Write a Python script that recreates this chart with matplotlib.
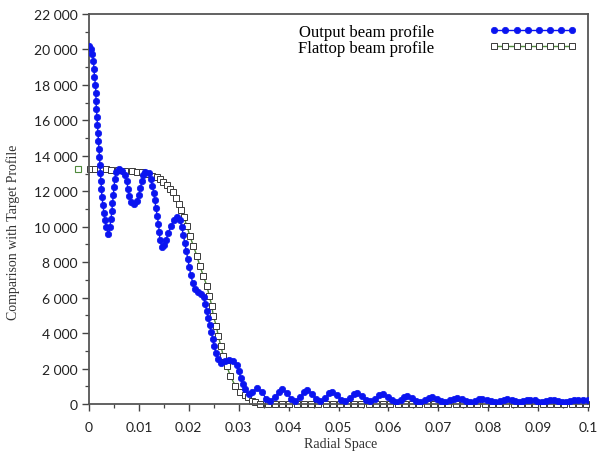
import matplotlib
matplotlib.use("Agg")
import matplotlib.pyplot as plt
from matplotlib.ticker import MultipleLocator, FuncFormatter

# ---------------- data ----------------
output_x = [0.0000, 0.0004, 0.0007, 0.0009, 0.0010, 0.0011, 0.0013, 0.0014, 0.0014, 0.0015,
            0.0016, 0.0017, 0.0018, 0.0019, 0.0020, 0.0021, 0.0022, 0.0023, 0.0024, 0.0025,
            0.0026, 0.0028, 0.0030, 0.0032, 0.0035, 0.0039, 0.0042, 0.0044, 0.0046, 0.0047,
            0.0049, 0.0050, 0.0052, 0.0054, 0.0060, 0.0067, 0.0072, 0.0076, 0.0078, 0.0081,
            0.0085, 0.0090, 0.0096, 0.0100, 0.0103, 0.0106, 0.0108, 0.0113, 0.0120, 0.0124,
            0.0127, 0.0130, 0.0132, 0.0134, 0.0137, 0.0139, 0.0141, 0.0142, 0.0146, 0.0150,
            0.0154, 0.0159, 0.0164, 0.0170, 0.0176, 0.0182, 0.0186, 0.0189, 0.0192, 0.0195,
            0.0198, 0.0201, 0.0204, 0.0208, 0.0212, 0.0218, 0.0224, 0.0230, 0.0233, 0.0236,
            0.0239, 0.0242, 0.0245, 0.0248, 0.0251, 0.0254, 0.0259, 0.0265, 0.0273, 0.0281,
            0.0289, 0.0296, 0.0300, 0.0304, 0.0308, 0.0313, 0.0320, 0.0327,
            0.0337, 0.0347, 0.0355, 0.0363, 0.0373, 0.0381,
            0.0387, 0.0397, 0.0405, 0.0413, 0.0423, 0.0431,
            0.0437, 0.0447, 0.0455, 0.0463, 0.0473, 0.0481,
            0.0487, 0.0497, 0.0505, 0.0513, 0.0523, 0.0531,
            0.0537, 0.0547, 0.0555, 0.0563, 0.0573, 0.0581,
            0.0589, 0.0599, 0.0607, 0.0615, 0.0625, 0.0631,
            0.0637, 0.0647, 0.0655, 0.0663, 0.0673, 0.0681,
            0.0687, 0.0697, 0.0705, 0.0713, 0.0723, 0.0731,
            0.0737, 0.0747, 0.0756, 0.0764, 0.0774, 0.0782,
            0.0788, 0.0798, 0.0806, 0.0814, 0.0824, 0.0832,
            0.0838, 0.0848, 0.0854, 0.0862, 0.0870, 0.0878,
            0.0884, 0.0894, 0.0900, 0.0908, 0.0916, 0.0924,
            0.0932, 0.0940, 0.0948, 0.0956, 0.0964, 0.0972,
            0.0980, 0.0990, 0.1000]
output_y = [20195, 20026, 19744, 19349, 18897, 18446, 17995, 17544, 17092, 16641,
            16190, 15738, 15287, 14836, 14385, 13933, 13482, 13031, 12579, 12128,
            11677, 11226, 10774, 10379, 9985, 9590, 9985, 10436, 10887, 11338,
            11790, 12241, 12692, 13087, 13256, 13143, 12918, 12579, 12128, 11733,
            11395, 11282, 11451, 11790, 12184, 12579, 12918, 13087, 13031, 12692,
            12297, 11903, 11508, 11056, 10605, 10154, 9703, 9251, 8856, 8969,
            9251, 9646, 10041, 10379, 10549, 10379, 9985, 9533, 9082, 8631,
            8179, 7728, 7277, 6826, 6487, 6318, 6205, 6036, 5641, 5246,
            4851, 4456, 4062, 3667, 3272, 2877, 2538, 2313, 2426, 2454,
            2426, 2200, 1862, 1467, 1128, 846, 564, 677,
            880, 650, 300, 170, 400, 700,
            850, 620, 290, 170, 380, 660,
            790, 580, 280, 160, 350, 600,
            690, 500, 250, 150, 320, 540,
            620, 460, 230, 150, 290, 480,
            560, 400, 200, 140, 250, 380,
            430, 330, 180, 120, 220, 340,
            390, 300, 170, 120, 210, 310,
            340, 270, 160, 110, 190, 270,
            300, 240, 150, 110, 180, 250,
            280, 220, 150, 100, 160, 220,
            250, 200, 140, 100, 160, 210,
            240, 190, 130, 100, 160, 210,
            230, 210, 200]

flattop_x = [-0.0022, 0.0002, 0.0012, 0.0022, 0.0035, 0.0045, 0.0059, 0.0072, 0.0086, 0.0096,
             0.0106, 0.0116, 0.0126, 0.0136, 0.0142, 0.0149, 0.0156, 0.0162, 0.0169, 0.0175,
             0.0180, 0.0185, 0.0190, 0.0196, 0.0202, 0.0209, 0.0216, 0.0222, 0.0229, 0.0236,
             0.0241, 0.0246, 0.0249, 0.0255, 0.0259, 0.0264, 0.0269, 0.0276, 0.0283, 0.0293,
             0.0303, 0.0313, 0.0319, 0.0326, 0.0333, 0.0343,
             0.0358, 0.0372, 0.0387, 0.0401, 0.0416, 0.0430, 0.0445, 0.0459, 0.0474, 0.0488,
             0.0503, 0.0517, 0.0532, 0.0546, 0.0561, 0.0575, 0.0590, 0.0604, 0.0619, 0.0633,
             0.0648, 0.0662, 0.0677, 0.0691, 0.0706, 0.0720, 0.0735, 0.0749, 0.0764, 0.0778,
             0.0793, 0.0807, 0.0822, 0.0836, 0.0851, 0.0865, 0.0880, 0.0894, 0.0909, 0.0923,
             0.0938, 0.0952, 0.0967, 0.0981, 0.0996]
flattop_y = [13256, 13256, 13256, 13256, 13256, 13217, 13200, 13160, 13126, 13104,
             13070, 12975, 12879, 12789, 12692, 12506, 12354, 12128, 11942, 11620,
             11282, 10944, 10549, 10058, 9494, 8930, 8366, 7802, 7237, 6673,
             6109, 5545, 4981, 4417, 3853, 3289, 2725, 2160, 1596, 1032,
             660, 508, 367, 186, 96, 0,
             0, 0, 0, 0, 0, 0, 0, 0, 0, 0,
             0, 0, 0, 0, 0, 0, 0, 0, 0, 0,
             0, 0, 0, 0, 0, 0, 0, 0, 0, 0,
             0, 0, 0, 0, 0, 0, 0, 0, 0, 0,
             0, 0, 0, 0, 0]

series_labels = ["Output beam profile", "Flattop beam profile"]
x_label = "Radial Space"
y_label = "Comparison with Target Profile"

# ---------------- figure ----------------
fig = plt.figure(figsize=(6.0, 4.52), dpi=100)
ax = fig.add_axes([89 / 600, 1 - 405 / 452, (588 - 89) / 600, (405 - 15) / 452])

blue = "#0a14f0"
green = "#4f8a3c"

ax.plot(output_x, output_y, color=blue, lw=1.0, marker="o", ms=4.6,
        mfc=blue, mec=blue, mew=0.5, label=series_labels[0], zorder=3)
ax.plot(flattop_x[1:], flattop_y[1:], color=green, lw=1.0, marker="s", ms=4.4,
        mfc="white", mec="#3a3a3a", mew=0.7, label=series_labels[1], zorder=2,
        clip_on=False)
ax.plot(flattop_x[:1], flattop_y[:1], ls="none", marker="s", ms=4.4,
        mfc="white", mec=green, mew=0.8, clip_on=False, zorder=2)

ax.set_xlim(0, 0.1)
ax.set_ylim(0, 22000)

ax.xaxis.set_major_locator(MultipleLocator(0.01))
ax.xaxis.set_minor_locator(MultipleLocator(0.005))
ax.yaxis.set_major_locator(MultipleLocator(2000))
ax.yaxis.set_minor_locator(MultipleLocator(1000))


def xfmt(v, pos):
    if abs(v) < 1e-12:
        return "0"
    s = f"{v:.2f}".rstrip("0")
    return s


def yfmt(v, pos):
    return f"{int(round(v)):,}".replace(",", " ")


ax.xaxis.set_major_formatter(FuncFormatter(xfmt))
ax.yaxis.set_major_formatter(FuncFormatter(yfmt))

tick_font = "Lato"
ax.tick_params(axis="both", which="major", direction="out", length=5, width=1.0,
               color="#444444", labelsize=10, labelcolor="#222222")
ax.tick_params(axis="x", which="major", pad=7)
ax.tick_params(axis="y", which="major", pad=3)
ax.tick_params(axis="both", which="minor", direction="out", length=3, width=0.9,
               color="#444444")
ax.tick_params(top=False, right=False, which="both")
for lab in ax.get_xticklabels() + ax.get_yticklabels():
    lab.set_fontfamily(tick_font)

for sp in ax.spines.values():
    sp.set_color("#555555")
    sp.set_linewidth(1.3)

ax.set_xlabel(x_label, fontfamily="Liberation Serif", fontsize=10, color="#333333",
              va="center")
ax.xaxis.set_label_coords(0.505, -(445 - 405) / 390)
ax.set_ylabel(y_label, fontfamily="Liberation Serif", fontsize=10, color="#333333",
              va="center")
ax.yaxis.set_label_coords(-(89 - 13) / 499, 0.444)

leg = ax.legend(loc="upper left", bbox_to_anchor=((298 - 89) / 499, (405 - 25) / 390),
                frameon=False, markerfirst=False, numpoints=8, handlelength=5.3,
                handletextpad=3.3, labelspacing=0.0, borderpad=0.0, borderaxespad=0.0,
                prop={"family": "Liberation Serif", "size": 12})

fig.savefig("out.png", dpi=100)
